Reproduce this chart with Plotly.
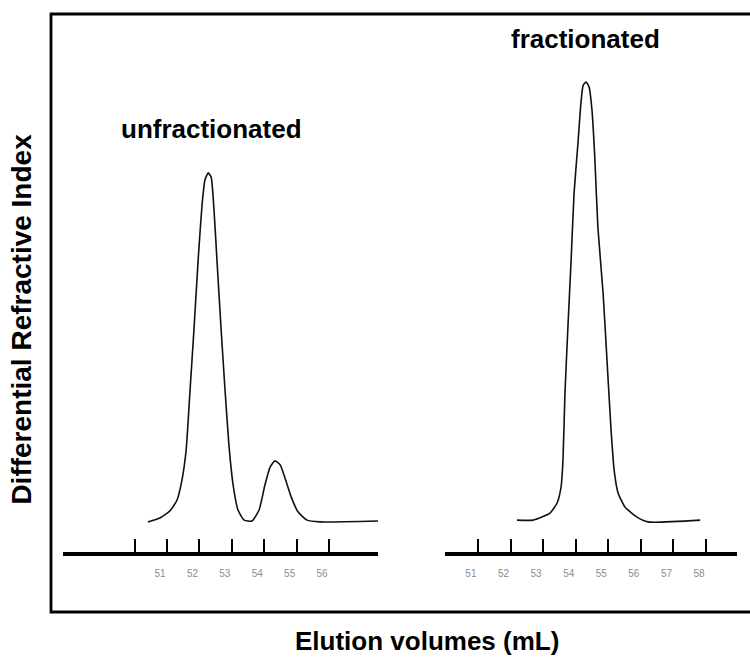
import plotly.graph_objects as go

# Unfractionated sample (left chromatogram): elution volume (mL) vs RI response (fractionated peak = 100)
unfrac_vol = [50.41, 50.78, 51.09, 51.31, 51.46, 51.59, 51.71, 51.83, 51.96, 52.08, 52.17, 52.27,
              52.36, 52.45, 52.54, 52.67, 52.79, 52.91, 53.04, 53.19, 53.38, 53.62, 53.84, 54.02,
              54.18, 54.33, 54.49, 54.64, 54.83, 55.04, 55.32, 55.72, 57.51]
unfrac_ri = [-0.2, 0.7, 2.3, 4.8, 9.3, 16.2, 29.8, 43.5, 59.5, 72.0, 77.7, 79.3,
             78.4, 70.8, 59.5, 43.5, 29.8, 17.3, 8.2, 2.5, 0.2, 0.0, 2.5, 8.2,
             12.3, 13.7, 12.8, 9.8, 5.5, 2.1, 0.2, -0.2, 0.0]

# Fractionated sample (right chromatogram)
frac_vol = [52.20, 52.69, 53.21, 53.43, 53.55, 53.61, 53.67, 53.76, 53.86, 53.95, 54.07, 54.16,
            54.23, 54.32, 54.41, 54.50, 54.59, 54.68, 54.84, 54.96, 55.08, 55.18, 55.30, 55.51,
            55.88, 56.22, 57.82]
frac_ri = [0.2, 0.2, 1.8, 4.1, 7.7, 13.9, 29.0, 44.0, 59.5, 74.7, 86.1, 95.2,
           99.3, 100.0, 98.9, 93.6, 82.2, 67.0, 52.0, 36.7, 21.4, 11.6, 6.4, 3.2,
           0.9, -0.2, 0.2]

# Axis ticks (elution volume, mL)
left_tickvals = [50, 51, 52, 53, 54, 55, 56]
left_ticktext = ["", "51", "52", "53", "54", "55", "56"]
right_tickvals = [51, 52, 53, 54, 55, 56, 57, 58]
right_ticktext = ["51", "52", "53", "54", "55", "56", "57", "58"]

FONT = "Liberation Sans, Arial, Helvetica, sans-serif"

fig = go.Figure()
fig.add_trace(go.Scatter(x=unfrac_vol, y=unfrac_ri, xaxis="x", yaxis="y", mode="lines",
                         line=dict(color="#111111", width=1.6, shape="spline", smoothing=0.5),
                         showlegend=False, hoverinfo="skip"))
fig.add_trace(go.Scatter(x=frac_vol, y=frac_ri, xaxis="x2", yaxis="y", mode="lines",
                         line=dict(color="#111111", width=1.6, shape="spline", smoothing=0.5),
                         showlegend=False, hoverinfo="skip"))

axis_common = dict(showline=True, linewidth=3.5, linecolor="black", ticks="inside", ticklen=13,
                   tickwidth=1.5, tickcolor="black", showgrid=False, zeroline=False,
                   tickfont=dict(family=FONT, size=10, color="#8c8c8c"), ticklabelshift=-7,
                   ticklabelstandoff=9, anchor="y", tickmode="array")

fig.update_layout(
    width=750, height=657,
    margin=dict(l=51, r=0, t=14, b=45),
    paper_bgcolor="white", plot_bgcolor="white",
    font=dict(family=FONT, color="black"),
    xaxis=dict(domain=[0.0172, 0.4678], range=[47.79, 57.51],
               tickvals=left_tickvals, ticktext=left_ticktext, **axis_common),
    xaxis2=dict(domain=[0.5637, 0.9814], range=[49.99, 58.95],
                tickvals=right_tickvals, ticktext=right_ticktext, **axis_common),
    yaxis=dict(domain=[0.1003, 1], range=[-7.06, 115.5], showline=False, showgrid=False,
               zeroline=False, showticklabels=False, ticks=""),
    shapes=[dict(type="rect", xref="paper", yref="paper", x0=0, x1=1.05, y0=0, y1=1,
                 line=dict(color="black", width=2.8), fillcolor="rgba(0,0,0,0)", layer="above")],
    annotations=[
        dict(text="<b>unfractionated</b>", xref="paper", yref="paper", x=0.2289, y=0.8077,
             xanchor="center", yanchor="middle", showarrow=False, font=dict(size=26, family=FONT)),
        dict(text="<b>fractionated</b>", xref="paper", yref="paper", x=0.764, y=0.958,
             xanchor="center", yanchor="middle", showarrow=False, font=dict(size=26, family=FONT)),
        dict(text="<b>Elution volumes (mL)</b>", xref="paper", yref="paper", x=0.538, y=-0.048,
             xanchor="center", yanchor="middle", showarrow=False, font=dict(size=26, family=FONT)),
        dict(text="<b>Differential Refractive Index</b>", xref="paper", yref="paper", x=-0.042,
             y=0.49, xanchor="center", yanchor="middle", textangle=-90, showarrow=False,
             font=dict(size=28, family=FONT)),
    ],
)

fig.write_html("out.html", config={"displayModeBar": False},
               post_script="document.body.style.margin='0px';document.body.style.overflow='hidden';")
